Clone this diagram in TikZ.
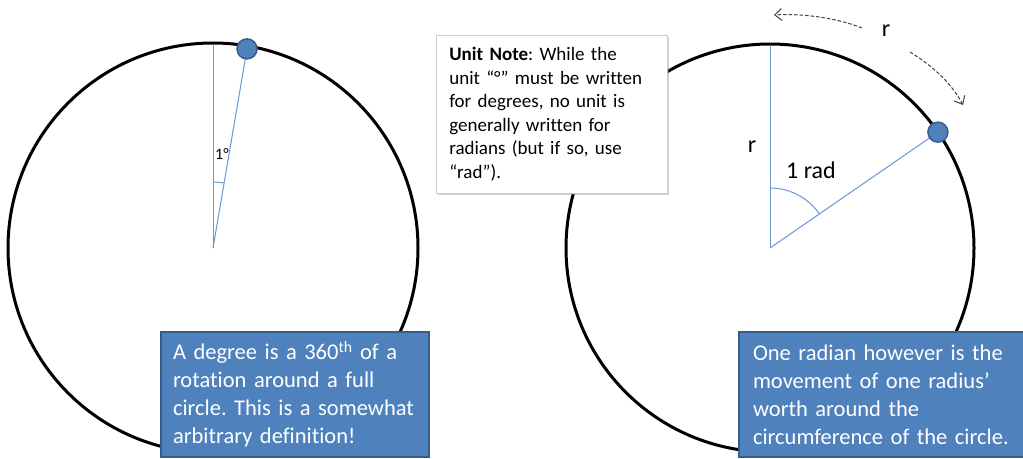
\documentclass[tikz,border=0pt]{standalone}
\usepackage{fontspec}
\setmainfont[Ligatures=CommonOff]{Carlito}
\usetikzlibrary{arrows.meta,shadows,calc}
\definecolor{accent}{HTML}{4F81BD}
\definecolor{accentdark}{HTML}{385D8A}
\definecolor{ray}{HTML}{6A97D8}
\definecolor{dashgray}{HTML}{404040}
\frenchspacing

\tikzset{
  rim/.style={draw=black, line width=3pt},
  rayline/.style={draw=ray, line width=1pt},
  marker/.style={circle, fill=accent, draw=accentdark, line width=1.5pt, minimum size=20pt, inner sep=0pt},
  bluebox/.style={rectangle, fill=accent, draw=accentdark, line width=2pt, text=white,
    anchor=north west, align=left, inner xsep=9pt, inner ysep=0pt,
    font=\fontsize{22.5}{28}\selectfont},
  notebox/.style={rectangle, fill=white, draw=white!80!black, line width=0.6pt,
    drop shadow={shadow xshift=2pt, shadow yshift=-2pt, opacity=0.35},
    anchor=north west, align=left, inner xsep=13pt, inner ysep=0pt,
    font=\fontsize{19}{23.5}\selectfont},
  label/.style={inner sep=0pt, font=\fontsize{24}{28}\selectfont},
  dasharrow/.style={draw=dashgray, line width=1pt, dash pattern=on 3.5pt off 2pt,
    -{Straight Barb[length=7pt, width=12pt, line width=1pt]}}
}

\begin{document}
\begin{tikzpicture}[x=1pt, y=-1pt]
\useasboundingbox (0,0) rectangle (1023,458);
\fill[white] (0,0) rectangle (1023,458);

% ---------- degree circle ----------
\coordinate (cL) at (213,248);
\draw[rim] (cL) circle[radius=205pt];
\coordinate (topL) at ($(cL)+(0,-204)$);
\path (cL) ++(-80.3:202) coordinate (dotL);
\draw[rayline] (cL) -- (topL);
\draw[rayline] (cL) -- (dotL);
\draw[rayline] (cL) ++(-90:66) arc[start angle=-90, end angle=-80.3, radius=66];
\node[inner sep=0pt, font=\fontsize{16}{18}\selectfont] (degLabel) at (222,154) {1°};
\node[marker] (markL) at (dotL) {};

% ---------- radian circle ----------
\coordinate (cR) at (770,248);
\draw[rim] (cR) circle[radius=204pt];
\coordinate (topR) at ($(cR)+(0,-203)$);
\path (cR) ++(-34.6:204) coordinate (dotR);
\draw[rayline] (cR) -- (topR);
\draw[rayline] (cR) -- (dotR);
\draw[rayline] (cR) ++(-90:60) arc[start angle=-90, end angle=-34.6, radius=60];
\node[marker] (markR) at (dotR) {};
\node[label] (rSide) at (752,147) {r};
\node[label] (radLabel) at (811,170) {1 rad};
\node[label] (rArc) at (886,31) {r};

\coordinate (a1s) at (862,28);
\coordinate (a1e) at (774,15);
\coordinate (a2s) at (910,52);
\coordinate (a2e) at (963,105);
\draw[dasharrow] (a1s) .. controls (840,19) and (805,13) .. (a1e);
\draw[dasharrow] (a2s) .. controls (933,66) and (952,84) .. (a2e);

% ---------- text boxes ----------
\node[notebox, minimum width=231pt, minimum height=158pt, text width=205pt] (note) at (436,35)
  {\textbf{Unit Note}: While the\\ unit “°” must be written\\ for degrees, no unit is\\ generally written for\\ radians (but if so, use\\ “rad”).};

\node[bluebox, minimum width=268pt, minimum height=125pt, text width=250pt] (degBox) at (160,331)
  {\hspace*{3pt}A degree is a 360\textsuperscript{th} of a\\ \hspace*{3pt}rotation around a full\\ \hspace*{3pt}circle. This is a somewhat\\ \hspace*{3pt}arbitrary definition!};

\node[bluebox, minimum width=300pt, minimum height=125pt, text width=282pt] (radBox) at (738,331)
  {\hspace*{5pt}One radian however is the\\ \hspace*{5pt}movement of one radius’\\ \hspace*{5pt}worth around the\\ \hspace*{5pt}circumference of the circle.};
\end{tikzpicture}
\end{document}
